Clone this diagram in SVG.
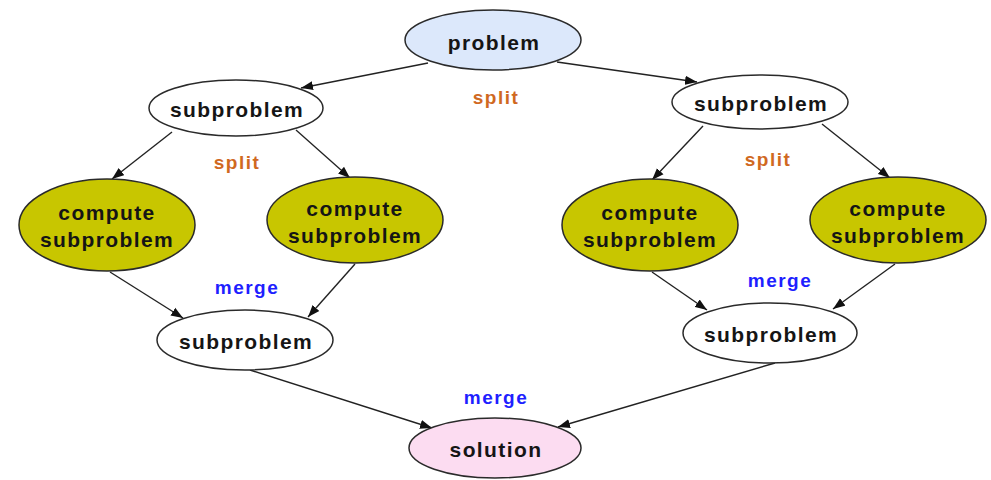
<svg xmlns="http://www.w3.org/2000/svg" width="991" height="480" viewBox="0 0 991 480">
<style>
.n{stroke:#2a2a2a;stroke-width:1.5}
.w{fill:#ffffff}
.c{fill:#c8c600}
.t{font-family:"Liberation Sans",Arial,sans-serif;font-weight:bold;font-size:21px;letter-spacing:1.4px;fill:#151515;text-anchor:middle}
.s{font-family:"Liberation Sans",Arial,sans-serif;font-weight:bold;font-size:19px;letter-spacing:1.5px;fill:#d0691f;text-anchor:middle}
.m{font-family:"Liberation Sans",Arial,sans-serif;font-weight:bold;font-size:19px;letter-spacing:1.5px;fill:#1f1fff;text-anchor:middle}
.e{stroke:#222;stroke-width:1.4;fill:none;marker-end:url(#a)}
</style>
<defs>
<marker id="a" markerUnits="userSpaceOnUse" markerWidth="13" markerHeight="10" refX="12" refY="5" orient="auto">
<path d="M0,0.5 L12,5 L0,9.5 Z" fill="#111"/>
</marker>
</defs>
<rect width="991" height="480" fill="#ffffff"/>
<g id="edges">
<line class="e" x1="428" y1="63" x2="301" y2="88"/>
<line class="e" x1="557" y1="62" x2="697" y2="82"/>
<line class="e" x1="172" y1="132" x2="112" y2="179"/>
<line class="e" x1="296" y1="130" x2="350" y2="178"/>
<line class="e" x1="703" y1="126" x2="652" y2="180"/>
<line class="e" x1="822" y1="124" x2="890" y2="178"/>
<line class="e" x1="110" y1="272" x2="183" y2="318"/>
<line class="e" x1="355" y1="264" x2="308" y2="317"/>
<line class="e" x1="652" y1="272" x2="707" y2="310"/>
<line class="e" x1="895" y1="264" x2="833" y2="309"/>
<line class="e" x1="250" y1="370" x2="432" y2="428"/>
<line class="e" x1="775" y1="363" x2="558" y2="427"/>
</g>
<g id="labels">
<text class="s" x="496" y="104">split</text>
<text class="s" x="237" y="169">split</text>
<text class="s" x="768" y="166">split</text>
<text class="m" x="247" y="294">merge</text>
<text class="m" x="780" y="287">merge</text>
<text class="m" x="496" y="404">merge</text>
</g>
<g id="problem">
<ellipse class="n" cx="493" cy="40" rx="88" ry="30" fill="#dce8fb"/>
<text class="t" x="494" y="50">problem</text>
</g>
<g id="sub-left">
<ellipse class="n w" cx="236" cy="108" rx="87" ry="28"/>
<text class="t" x="237" y="117">subproblem</text>
</g>
<g id="sub-right">
<ellipse class="n w" cx="760" cy="102" rx="88" ry="27"/>
<text class="t" x="761" y="111">subproblem</text>
</g>
<g id="compute-ll">
<ellipse class="n c" cx="107" cy="225" rx="88" ry="46"/>
<text class="t" x="107" y="220">compute</text>
<text class="t" x="107" y="247">subproblem</text>
</g>
<g id="compute-lr">
<ellipse class="n c" cx="355" cy="220" rx="88" ry="43"/>
<text class="t" x="355" y="216">compute</text>
<text class="t" x="355" y="243">subproblem</text>
</g>
<g id="compute-rl">
<ellipse class="n c" cx="650" cy="225" rx="88" ry="46"/>
<text class="t" x="650" y="220">compute</text>
<text class="t" x="650" y="247">subproblem</text>
</g>
<g id="compute-rr">
<ellipse class="n c" cx="898" cy="220" rx="88" ry="43"/>
<text class="t" x="898" y="216">compute</text>
<text class="t" x="898" y="243">subproblem</text>
</g>
<g id="merge-left">
<ellipse class="n w" cx="245" cy="340" rx="88" ry="30"/>
<text class="t" x="246" y="349">subproblem</text>
</g>
<g id="merge-right">
<ellipse class="n w" cx="770" cy="333" rx="87" ry="30"/>
<text class="t" x="771" y="342">subproblem</text>
</g>
<g id="solution">
<ellipse class="n" cx="495" cy="448" rx="86" ry="30" fill="#fcdcf1"/>
<text class="t" x="496" y="457">solution</text>
</g>
</svg>
